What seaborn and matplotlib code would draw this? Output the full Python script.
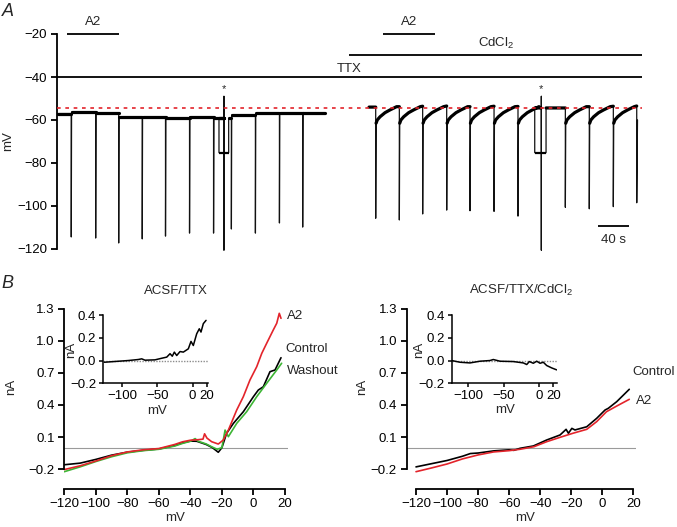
import numpy as np
import pandas as pd
import seaborn as sns
import matplotlib
matplotlib.use("Agg")
import matplotlib.pyplot as plt

# ---------------- panel A : membrane potential traces (time in s, mV) ----------------
t_end = 754.8                      # right end of the TTX bar
trace1_span = [1, 346]
spk1_t = [18.4, 49.9, 79.6, 110, 140, 171, 202, 225, 256, 287, 317]
spk1_min = [-114.4, -114.9, -117.2, -115.3, -114.0, -112.6, -112.6, -110.7, -112.6, -107.9, -109.8]
lvl1 = [-57.0, -56.3, -56.9, -58.5, -58.5, -59.2, -58.5, -59.2, -57.7, -56.9, -56.9, -56.9]
stim1 = [209, 221.5, -75.2, 215.4, -49, -120.5]   # on, off, step level, spike time, top, bottom

trace2_span = [402.6, 749]
spk2_t = [411.2, 441.7, 471.8, 502.8, 532.9, 563.9, 594.8, 655.9, 686.8, 717.8, 748.0]
spk2_min = [-105.7, -106.5, -103.7, -101.9, -102.2, -102.5, -104.7, -100.6, -101.3, -100.3, -98.5]
lvl2 = [-54.0, -53.8, -53.6, -53.5, -53.8, -53.6, -53.7, -54.4, -53.8, -53.6, -53.5, -60.0]
rec_dt = [0.5, 2, 5.6, 12, 18.5, 27]               # after-spike recovery (CdCl2)
rec_v = [-61.5, -60.0, -58.5, -56.6, -55.3, -53.8]
stim2 = [616.4, 631, -75.2, 624.9, -49, -120.5]

rest_level = -54.6
a2_bars = [[12.9, 80.0], [420.6, 487.7]]
cd_bar = [376.8, t_end]
ttx_bar = [0, t_end]
star_t = [215.5, 624.5]
scale_bar = [698, 738]

# ---------------- panel B : I-V curves (mV, nA) ----------------
ttx_ctl_mv = [-120, -110, -100, -90, -80, -70, -60, -50, -45, -40, -36, -30, -26, -22.3, -20, -17.0,
              -12.7, -6.4, 0, 3.1, 6.3, 10.5, 13.7, 17.5]
ttx_ctl_na = [-0.16, -0.145, -0.11, -0.07, -0.042, -0.025, -0.012, 0.02, 0.045, 0.062, 0.06, 0.03, 0.0,
              -0.043, 0.0, 0.135, 0.228, 0.337, 0.478, 0.54, 0.571, 0.712, 0.728, 0.843]
ttx_a2_mv = [-120, -110, -100, -90, -80, -70, -60, -50, -45, -40, -35, -32, -31, -29.5, -26.5, -22.3,
             -19.1, -15.9, -10.6, -6.4, -2.2, 2.1, 5.3, 8.4, 12.6, 14.8, 16.4, 17.5]
ttx_a2_na = [-0.205, -0.17, -0.125, -0.075, -0.04, -0.02, -0.008, 0.03, 0.055, 0.07, 0.075, 0.08, 0.13,
             0.09, 0.056, 0.034, 0.072, 0.165, 0.353, 0.478, 0.634, 0.759, 0.884, 0.978, 1.103, 1.166,
             1.259, 1.212]
ttx_wash_mv = [-120, -110, -100, -90, -80, -70, -60, -50, -45, -40, -37, -35, -30, -26, -23, -20, -18.0,
               -15.9, -10.6, -4.3, 2.1, 8.4, 14.8, 17.9]
ttx_wash_na = [-0.225, -0.18, -0.13, -0.085, -0.048, -0.028, -0.015, 0.015, 0.04, 0.06, 0.085, 0.06,
               0.035, 0.005, -0.015, 0.0, 0.165, 0.103, 0.228, 0.337, 0.478, 0.603, 0.728, 0.791]

cd_ctl_mv = [-120, -110, -100, -90, -85, -80, -70, -60, -57, -53, -44.4, -35.8, -27.2, -23.3, -21.8,
             -19.6, -17.6, -10, -3.6, 1.8, 3.9, 9.3, 17.4]
cd_ctl_na = [-0.18, -0.15, -0.12, -0.08, -0.055, -0.05, -0.03, -0.02, -0.025, -0.006, 0.016, 0.072,
             0.119, 0.172, 0.135, 0.181, 0.166, 0.196, 0.275, 0.353, 0.369, 0.431, 0.547]
cd_a2_mv = [-120, -110, -100, -90, -80, -70, -60, -53, -44, -35.8, -27.2, -18.9, -10, -3.6, 2.7, 9.3, 17.4]
cd_a2_na = [-0.225, -0.19, -0.153, -0.105, -0.068, -0.04, -0.028, -0.015, 0.009, 0.056, 0.097, 0.135,
            0.172, 0.244, 0.337, 0.39, 0.453]

# insets: A2 minus control
ins1_mv = [-125.6, -91.5, -77.2, -72.4, -67.7, -53.5, -44, -36.8, -32.1, -28.9, -26, -22.6, -17.9, -13.2,
           -6.1, -2.3, 1, 5.8, 9.5, 11.9, 15.2, 19.1]
ins1_na = [-0.015, 0.0, 0.009, 0.015, 0.003, 0.006, 0.02, 0.03, 0.06, 0.038, 0.074, 0.044, 0.079, 0.074,
           0.103, 0.168, 0.132, 0.235, 0.279, 0.25, 0.324, 0.353]
ins2_mv = [-123.4, -111.7, -97.6, -83.5, -69.4, -64.7, -55.2, -36.4, -22.3, -17.5, -13.8, -8.2, -3.4, 1.3,
           5.9, 10.7, 17.8, 24.8]
ins2_na = [0.0, -0.015, -0.021, -0.006, 0.0, 0.009, -0.006, -0.009, -0.021, -0.035, -0.009, -0.024,
           -0.006, -0.024, -0.015, -0.044, -0.065, -0.082]

RED = "#e3242b"
GREEN = "#3db535"

sns.set_theme(style="ticks", rc={
    "axes.linewidth": 1.3, "xtick.major.width": 1.3, "ytick.major.width": 1.3,
    "xtick.major.size": 4, "ytick.major.size": 4, "xtick.labelsize": 9.5, "ytick.labelsize": 9.5,
    "xtick.major.pad": 2.5, "ytick.major.pad": 3, "axes.edgecolor": "black",
    "xtick.color": "black", "ytick.color": "black"})
plt.rcParams["font.family"] = ["Liberation Sans", "DejaVu Sans"]
plt.rcParams["mathtext.fontset"] = "custom"
plt.rcParams["mathtext.rm"] = "Liberation Sans"


def build_trace(span, spk_t, spk_min, lvl, stim, rec_dt=None, rec_v=None):
    t, v = [span[0]], [lvl[0]]
    events = [("spk", s, m, i) for i, (s, m) in enumerate(zip(spk_t, spk_min))]
    events.append(("stim", stim[3], None, None))
    events.sort(key=lambda e: e[1])
    seg = 0
    for k, ev in enumerate(events):
        nxt = events[k + 1][1] if k + 1 < len(events) else span[1]
        if ev[0] == "stim":
            on, off, step, st, top, bot = stim
            t += [on, on, st, st, st, st, off, off]
            v += [lvl[seg], step, step, top, bot, step, step, lvl[seg]]
            continue
        s, m = ev[1], ev[2]
        t += [s, s]
        v += [lvl[seg], m]
        seg += 1
        if rec_dt is not None:
            for dt, rv in zip(rec_dt, rec_v):
                if s + dt < nxt - 1:
                    t.append(s + dt)
                    v.append(rv)
        else:
            t.append(s + 0.4)
            v.append(lvl[seg])
        t.append(nxt - 0.3 if k + 1 < len(events) else span[1])
        v.append(lvl[seg])
    return np.array(t), np.array(v)


fig = plt.figure(figsize=(6.77, 5.27), dpi=100)
W, H = 677.0, 527.0

# ---------------- panel A ----------------
axA = fig.add_axes([57 / W, 1 - 253.3 / H, 585 / W, 245.1 / H])
for span, st, sm, lv, stim, rd, rv in [(trace1_span, spk1_t, spk1_min, lvl1, stim1, None, None),
                                       (trace2_span, spk2_t, spk2_min, lvl2, stim2, rec_dt, rec_v)]:
    tt, vv = build_trace(span, st, sm, lv, stim, rd, rv)
    df = pd.DataFrame({"t": tt, "v": vv})
    sns.lineplot(data=df, x="t", y="v", ax=axA, estimator=None, sort=False, color="#111111", lw=0.9)
    # the noisy resting band is drawn as a thicker line over the non-spike parts
    band = np.where(vv < -66, np.nan, vv)
    axA.plot(tt, band, color="black", lw=2.3, zorder=2)
    axA.hlines(stim[2], stim[0], stim[1], color="black", lw=1.6)

axA.axhline(rest_level, color=RED, lw=1.2, ls=(0, (2.2, 2.8)), zorder=5)
for b in a2_bars:
    axA.hlines(-20, b[0], b[1], color="black", lw=1.3)
    axA.text(np.mean(b), -14.5, "A2", ha="center", va="center", fontsize=9.5)
axA.hlines(-29.6, cd_bar[0], cd_bar[1], color="black", lw=1.3)
axA.text(566, -24.3, "CdCl$_\\mathregular{2}$", ha="center", va="center", fontsize=9.5)
axA.hlines(-40, ttx_bar[0], ttx_bar[1], color="black", lw=1.3)
axA.text(cd_bar[0], -36.3, "TTX", ha="center", va="center", fontsize=9.5)
for s in star_t:
    axA.text(s, -45.5, "*", ha="center", va="center", fontsize=8)
axA.hlines(-109.2, scale_bar[0], scale_bar[1], color="black", lw=1.3)
axA.text(np.mean(scale_bar), -115.8, "40 s", ha="center", va="center", fontsize=9.5)

axA.set_xlim(0, t_end)
axA.set_ylim(-122, -8)
axA.set_yticks([-20, -40, -60, -80, -100, -120])
axA.set_xticks([])
for sp in ["top", "right", "bottom"]:
    axA.spines[sp].set_visible(False)
axA.spines["left"].set_bounds(-120, -20)
axA.set_xlabel("")
axA.set_ylabel("mV", fontsize=9.5)
axA.yaxis.set_label_coords(-0.074, 0.458)
fig.text(8 / W, 1 - 11 / H, "A", fontsize=13, style="italic", ha="center", va="center")
fig.text(7 / W, 1 - 283 / H, "B", fontsize=13, style="italic", ha="center", va="center")


# ---------------- panel B ----------------
def iv_axes(rect, xlim, title, curves, labels):
    ax = fig.add_axes(rect)
    ax.axhline(0, color="#9a9a9a", lw=0.8, zorder=0)
    for mv, na, col in curves:
        sns.lineplot(x=mv, y=na, ax=ax, estimator=None, sort=False, color=col, lw=1.2)
    for x, y, s in labels:
        ax.text(x, y, s, ha="left", va="center", fontsize=9.5)
    ax.set_xlim(*xlim)
    ax.set_ylim(-0.39, 1.32)
    ax.set_xticks(range(-120, 21, 20))
    ax.set_yticks([-0.2, 0.1, 0.4, 0.7, 1.0, 1.3])
    ax.set_yticklabels(["\u22120.2", "0.1", "0.4", "0.7", "1.0", "1.3"])
    sns.despine(ax=ax)
    ax.spines["left"].set_bounds(-0.2, 1.3)
    ax.spines["bottom"].set_bounds(-120, 20)
    ax.set_xlabel("mV", fontsize=9.5)
    ax.set_ylabel("nA", fontsize=9.5)
    ax.set_title(title, fontsize=9.5, y=1.025)
    return ax


def inset_axes(rect, xlim, mv, na):
    ax = fig.add_axes(rect)
    ax.axhline(0, color="#8c8c8c", lw=1.0, ls=(0, (1, 1)), zorder=0)
    sns.lineplot(x=mv, y=na, ax=ax, estimator=None, sort=False, color="black", lw=1.1)
    ax.set_xlim(*xlim)
    ax.set_ylim(-0.2, 0.4)
    ax.set_xticks([-100, -50, 0, 20])
    ax.set_yticks([-0.2, 0.0, 0.2, 0.4])
    ax.set_yticklabels(["\u22120.2", "0.0", "0.2", "0.4"])
    ax.tick_params(length=3, width=1.1, pad=2)
    for sp in ["left", "bottom"]:
        ax.spines[sp].set_linewidth(1.1)
    sns.despine(ax=ax)
    ax.set_xlabel("mV", fontsize=9.5)
    ax.set_ylabel("nA", fontsize=9.5)
    ax.patch.set_alpha(0)
    return ax


axL = iv_axes([64.3 / W, 1 - 489.3 / H, 223.8 / W, 182.5 / H], (-120, 22), "ACSF/TTX",
              [(ttx_ctl_mv, ttx_ctl_na, "black"), (ttx_wash_mv, ttx_wash_na, GREEN),
               (ttx_a2_mv, ttx_a2_na, RED)],
              [(21.3, 1.237, "A2"), (20.0, 0.925, "Control"), (21.3, 0.721, "Washout")])
axL.yaxis.set_label_coords(-0.21, 0.56)
axL.xaxis.set_label_coords(0.495, -0.125)

axR = iv_axes([406.7 / W, 1 - 489.3 / H, 229.4 / W, 182.5 / H], (-126, 21.8),
              "ACSF/TTX/CdCl$_\\mathregular{2}$",
              [(cd_ctl_mv, cd_ctl_na, "black"), (cd_a2_mv, cd_a2_na, RED)],
              [(19.6, 0.712, "Control"), (21.8, 0.44, "A2")])
axR.yaxis.set_label_coords(-0.168, 0.56)
axR.xaxis.set_label_coords(0.516, -0.125)

in1 = inset_axes([103.3 / W, 1 - 383.3 / H, 105 / W, 68.3 / H], (-127, 22.3), ins1_mv, ins1_na)
in1.yaxis.set_label_coords(-0.25, 0.49)
in1.xaxis.set_label_coords(0.51, -0.32)
in2 = inset_axes([451.7 / W, 1 - 383.3 / H, 105 / W, 68.3 / H], (-123.4, 24.8), ins2_mv, ins2_na)
in2.yaxis.set_label_coords(-0.254, 0.49)
in2.xaxis.set_label_coords(0.508, -0.30)

fig.savefig("out.png", dpi=100)
